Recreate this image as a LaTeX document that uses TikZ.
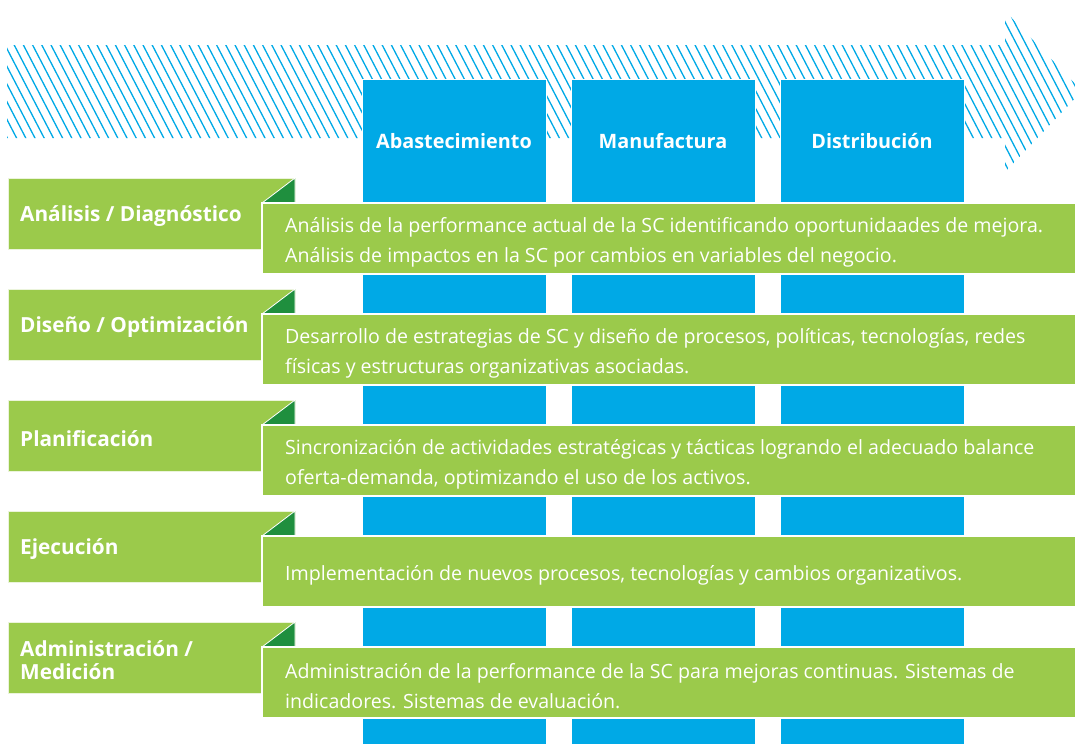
\documentclass[tikz,border=0pt]{standalone}
\usepackage{fontspec}
\setmainfont{Open Sans}
\definecolor{cblue}{HTML}{00A9E6}
\definecolor{cgreen}{HTML}{9BCA4B}
\definecolor{cdark}{HTML}{1F8F3E}
\tikzset{
  col/.style={fill=cblue, draw=white, line width=0.8pt, anchor=north west, minimum width=184pt, minimum height=665pt, inner sep=0pt, outer sep=0pt},
  colhead/.style={text=white, font=\bfseries\fontsize{19.8}{22}\selectfont, inner sep=0pt},
  labbox/.style={fill=cgreen, draw=white!80!cgreen, line width=0.8pt, anchor=north west, minimum width=287pt, minimum height=71pt, inner sep=0pt, outer sep=0pt},
  labtext/.style={text=white, font=\bfseries\fontsize{20.8}{23}\selectfont, anchor=west, align=left, inner sep=0pt},
  descbox/.style={fill=cgreen, draw=white, line width=1.2pt, anchor=north west, minimum width=815pt, minimum height=71pt, inner sep=0pt, outer sep=0pt},
  desctext/.style={text=white, font=\fontsize{19.6}{30}\selectfont, anchor=west, align=left, inner sep=0pt},
  fold/.style={fill=cdark, draw=white, line width=0.8pt, line join=miter},
  hatch/.style={cblue, line width=1.3pt}
}
\newcommand{\myrow}[4]{%
  \node[labbox] (l#1) at (8,#2) {};
  \node[labtext] (lt#1) at (20,#2+38.5) {#3};
  \draw[fold] (262,#2+25) -- (295,#2) -- (295,#2+25) -- cycle;
  \node[descbox] (d#1) at (262,#2+25) {};
  \node[desctext] (dt#1) at (285,#2+64) {#4};
}
\begin{document}
\begin{tikzpicture}[x=1pt,y=-1pt]
\useasboundingbox (0,0) rectangle (1075,744);
% hatched arrow
\begin{scope}
\clip (7,45) -- (1005,45) -- (1005,11) -- (1082,91) -- (1005,172) -- (1005,138) -- (7,138) -- cycle;
\foreach \i in {-15,...,120} {
  \draw[hatch] (\i*9.2,0) -- ++(93.6,180);
}
\end{scope}
% columns
\node[col] (c1) at (362,79) {};
\node[col] (c2) at (571,79) {};
\node[col] (c3) at (780,79) {};
\node[colhead] (h1) at (454,141) {Abastecimiento};
\node[colhead] (h2) at (663,141) {Manufactura};
\node[colhead] (h3) at (872,141) {Distribución};
% rows
\myrow{0}{178}{Análisis / Diagnóstico}{Análisis de la performance actual de la SC identificando oportunidaades de mejora.\\Análisis de impactos en la SC por cambios en variables del negocio.}
\myrow{1}{289}{Diseño / Optimización}{Desarrollo de estrategias de SC y diseño de procesos, políticas, tecnologías, redes\\físicas y estructuras organizativas asociadas.}
\myrow{2}{400}{Planificación}{Sincronización de actividades estratégicas y tácticas logrando el adecuado balance\\oferta-demanda, optimizando el uso de los activos.}
\myrow{3}{511}{Ejecución}{Implementación de nuevos procesos, tecnologías y cambios organizativos.}
\myrow{4}{622}{Administración /\\Medición}{Administración de la performance de la SC para mejoras continuas. Sistemas de\\indicadores. Sistemas de evaluación.}
\end{tikzpicture}
\end{document}
